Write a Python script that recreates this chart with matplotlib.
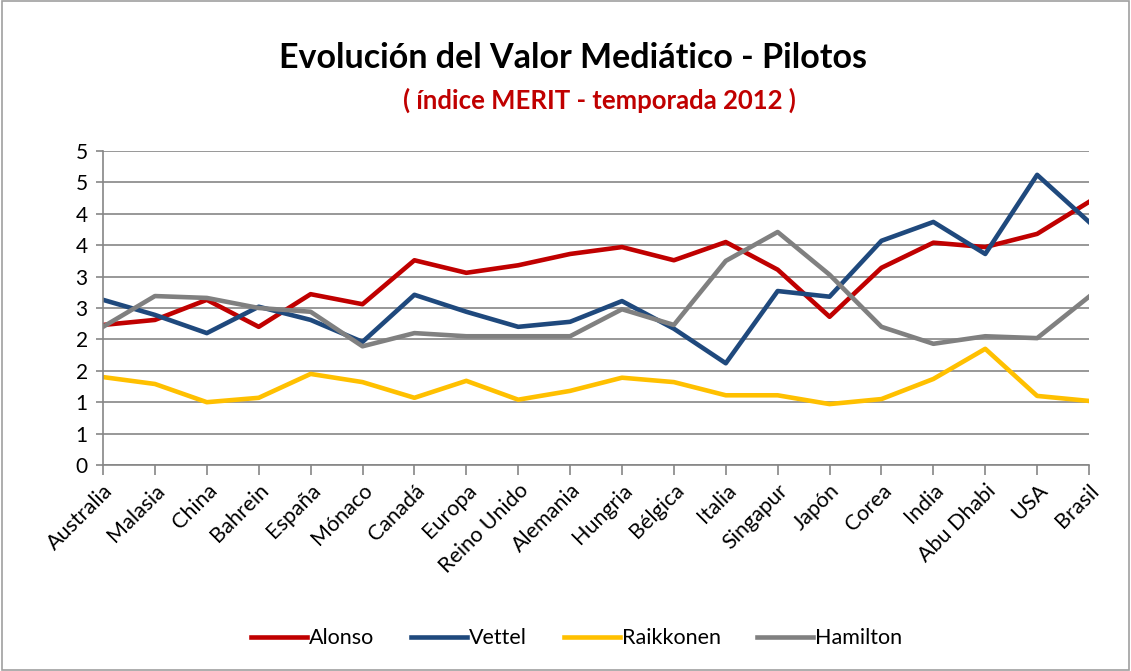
import matplotlib.pyplot as plt
from matplotlib.ticker import FixedLocator, FixedFormatter
from matplotlib.patches import Rectangle

plt.rcParams['font.family'] = ['Lato', 'DejaVu Sans']

# datos
carreras = ["Australia", "Malasia", "China", "Bahrein", "España", "Mónaco", "Canadá",
            "Europa", "Reino Unido", "Alemania", "Hungria", "Bélgica", "Italia",
            "Singapur", "Japón", "Corea", "India", "Abu Dhabi", "USA", "Brasil"]
alonso = [2.23, 2.31, 2.63, 2.20, 2.72, 2.56, 3.26, 3.06, 3.18, 3.36,
          3.47, 3.26, 3.55, 3.11, 2.36, 3.14, 3.54, 3.47, 3.68, 4.19]
vettel = [2.63, 2.39, 2.10, 2.52, 2.31, 1.96, 2.71, 2.44, 2.20, 2.28,
          2.61, 2.17, 1.62, 2.77, 2.68, 3.57, 3.87, 3.36, 4.62, 3.87]
raikkonen = [1.40, 1.29, 1.00, 1.07, 1.45, 1.32, 1.07, 1.34, 1.04, 1.18,
             1.39, 1.32, 1.11, 1.11, 0.97, 1.05, 1.37, 1.85, 1.10, 1.02]
hamilton = [2.20, 2.69, 2.66, 2.50, 2.44, 1.89, 2.10, 2.05, 2.05, 2.05,
            2.48, 2.23, 3.25, 3.71, 3.03, 2.20, 1.93, 2.05, 2.02, 2.68]
y_ticks = [0, 0.5, 1, 1.5, 2, 2.5, 3, 3.5, 4, 4.5, 5]
y_labels = ["0", "1", "1", "2", "2", "3", "3", "4", "4", "5", "5"]

series = [("Alonso", alonso, "#C00000"), ("Vettel", vettel, "#1F497D"),
          ("Raikkonen", raikkonen, "#FFC000"), ("Hamilton", hamilton, "#808080")]

fig = plt.figure(figsize=(11.31, 6.71), dpi=100)
ax = fig.add_axes([0.0911, 0.307, 0.8718, 0.468])

x = list(range(len(carreras)))
for nombre, vals, color in series:
    ax.plot(x, vals, color=color, linewidth=3.3, label=nombre, solid_joinstyle='round')

ax.set_xlim(0, len(carreras) - 1)
ax.set_ylim(0, 5)
ax.yaxis.set_major_locator(FixedLocator(y_ticks))
ax.yaxis.set_major_formatter(FixedFormatter(y_labels))
ax.set_xticks(x)
ax.set_xticklabels(carreras, rotation=45, ha='right', rotation_mode='anchor')
ax.tick_params(axis='x', labelsize=15.5, length=7, color='#868686', width=1.2, pad=4)
ax.tick_params(axis='y', labelsize=15, length=5, color='#868686', width=1.2, pad=6)

ax.grid(axis='y', color='#868686', linewidth=1.2)
ax.set_axisbelow(True)
for s in ['top', 'right']:
    ax.spines[s].set_visible(False)
for s in ['left', 'bottom']:
    ax.spines[s].set_color('#868686')
    ax.spines[s].set_linewidth(1.2)

fig.text(0.507, 0.913, "Evolución del Valor Mediático - Pilotos", ha='center', va='center',
         fontsize=24.5, fontweight='bold')
fig.text(0.530, 0.851, "( índice MERIT - temporada 2012 )", ha='center', va='center',
         fontsize=18.5, fontweight='bold', color='#C00000')

fig.legend(loc='center', bbox_to_anchor=(0.51, 0.049), ncol=4, frameon=False,
           fontsize=15.5, handlelength=2.6, handletextpad=0.1, columnspacing=1.7)

fig.patches.append(Rectangle((0.002, 0.002), 0.996, 0.996, transform=fig.transFigure,
                             fill=False, edgecolor='#A0A0A0', linewidth=1.2))

plt.savefig("out.png", dpi=100)
